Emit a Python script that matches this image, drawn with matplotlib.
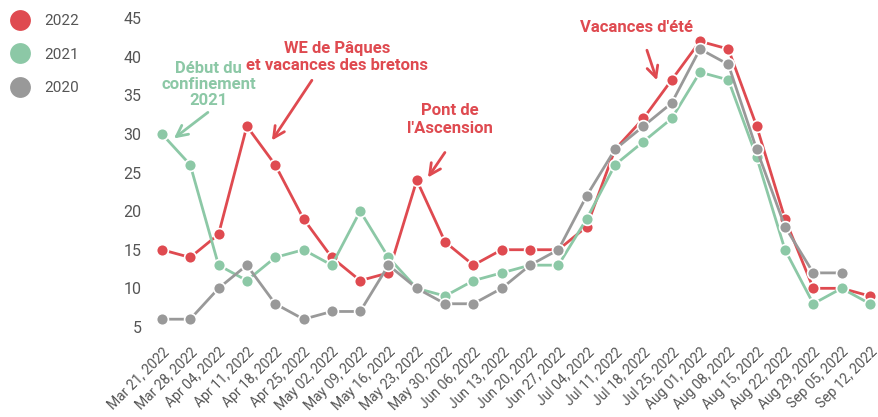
import matplotlib
matplotlib.use("Agg")
import matplotlib.pyplot as plt
from matplotlib.lines import Line2D
import numpy as np

plt.rcParams['font.family'] = ['Roboto', 'DejaVu Sans']

weeks = ["Mar 21, 2022", "Mar 28, 2022", "Apr 04, 2022", "Apr 11, 2022", "Apr 18, 2022",
         "Apr 25, 2022", "May 02, 2022", "May 09, 2022", "May 16, 2022", "May 23, 2022",
         "May 30, 2022", "Jun 06, 2022", "Jun 13, 2022", "Jun 20, 2022", "Jun 27, 2022",
         "Jul 04, 2022", "Jul 11, 2022", "Jul 18, 2022", "Jul 25, 2022", "Aug 01, 2022",
         "Aug 08, 2022", "Aug 15, 2022", "Aug 22, 2022", "Aug 29, 2022", "Sep 05, 2022",
         "Sep 12, 2022"]
y2022 = [15, 14, 17, 31, 26, 19, 14, 11, 12, 24, 16, 13, 15, 15, 15, 18, 28, 32, 37, 42,
         41, 31, 19, 10, 10, 9]
y2021 = [30, 26, 13, 11, 14, 15, 13, 20, 14, 10, 9, 11, 12, 13, 13, 19, 26, 29, 32, 38,
         37, 27, 15, 8, 10, 8]
y2020 = [6, 6, 10, 13, 8, 6, 7, 7, 13, 10, 8, 8, 10, 13, 15, 22, 28, 31, 34, 41,
         39, 28, 18, 12, 12, None]
yticks = [5, 10, 15, 20, 25, 30, 35, 40, 45]

RED = "#df4a50"
GREEN = "#8cc8a6"
GRAY = "#999999"
TXT = "#555555"

fig = plt.figure(figsize=(8.79, 4.17), dpi=100)
ax = fig.add_axes([150/879, 0.179, (879-150)/879, 0.796])

x = np.arange(len(weeks))
def plot(vals, color, z):
    v = np.array([np.nan if a is None else a for a in vals], dtype=float)
    ax.plot(x, v, color=color, lw=2.0, marker='o', ms=8.5, mfc=color,
            mec='white', mew=1.2, zorder=z, solid_capstyle='round')

plot(y2022, RED, 3)
plot(y2021, GREEN, 4)
plot(y2020, GRAY, 5)

ax.set_xlim(-0.42, 25.32)
ax.set_ylim(3, 46)
ax.set_yticks(yticks)
ax.set_xticks(x)
ax.set_xticklabels(weeks, rotation=45, ha='right', rotation_mode='anchor',
                   fontsize=10, color=TXT)
ax.tick_params(axis='y', length=0, pad=6, labelsize=11.5, labelcolor=TXT)
ax.tick_params(axis='x', length=0, pad=2)
for s in ax.spines.values():
    s.set_visible(False)

# annotations
def note(text, xy, xytext, tpos, color, ls=1.2):
    ax.annotate("", xy=xy, xytext=xytext,
                arrowprops=dict(arrowstyle='->', color=color, lw=2,
                                mutation_scale=20, shrinkA=0, shrinkB=0))
    ax.text(tpos[0], tpos[1], text, color=color, fontsize=12, fontweight='bold',
            ha='center', va='center', linespacing=ls)

def px(xp, yp):
    # convert pixel coords (from top-left) to data coords
    xd = (xp - 162) / 28.32
    yd = 45 - (yp - 18) / 7.7
    return (xd, yd)

note("Début du\nconfinement\n2021", px(174, 138), px(208, 112), px(209, 84), GREEN, 1.1)
note("WE de Pâques\net vacances des bretons", px(272, 140), px(312, 80), px(337, 57), RED, 1.2)
note("Pont de\nl'Ascension", px(428, 177), px(445, 152), px(450, 119), RED, 1.25)
note("Vacances d'été", px(657, 80), px(647, 50), px(637, 27), RED)

handles = [Line2D([], [], ls='', marker='o', ms=15, color=c, mec='white', mew=0)
           for c in (RED, GREEN, GRAY)]
fig.legend(handles, ["2022", "2021", "2020"], loc='upper left',
           bbox_to_anchor=(0.0, 0.992), frameon=False, fontsize=11,
           labelcolor=TXT, labelspacing=1.28, handletextpad=1.0,
           borderaxespad=0.3, handlelength=1.2)

fig.savefig("out.png", dpi=100)
